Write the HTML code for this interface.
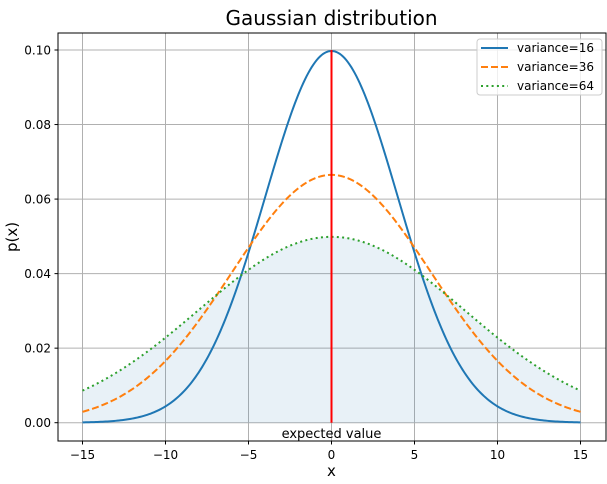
<!DOCTYPE html>
<html><head><style>
body{margin:0;background:#fff;font-family:"DejaVu Sans","Liberation Sans",sans-serif;}
</style></head><body>
<svg id="s" width="607" height="480" xmlns="http://www.w3.org/2000/svg" font-family="DejaVu Sans, Liberation Sans, sans-serif">
<rect width="607" height="480" fill="#fff"/>
<g id="grid" stroke="#b0b0b0" stroke-width="1"></g>
<path id="fill" fill="#1f77b4" fill-opacity="0.1"/>
<path id="c1" fill="none" stroke="#1f77b4" stroke-width="2"/>
<path id="c2" fill="none" stroke="#ff7f0e" stroke-width="2" stroke-dasharray="7,3"/>
<path id="c3" fill="none" stroke="#2ca02c" stroke-width="2" stroke-dasharray="2,3.3"/>
<line x1="331.5" y1="422.7" x2="331.5" y2="50" stroke="#ff0000" stroke-width="2"/>
<rect x="58" y="33" width="548" height="408" fill="none" stroke="#000" stroke-width="1"/>
<g id="ticks" font-size="12" fill="#000"></g>
<text x="331.5" y="438" font-size="13" text-anchor="middle">expected value</text>
<text x="331.5" y="25" font-size="20" text-anchor="middle">Gaussian distribution</text>
<text x="331.5" y="476" font-size="15" text-anchor="middle">x</text>
<text transform="translate(17,237) rotate(-90)" font-size="15" text-anchor="middle">p(x)</text>
<rect x="477" y="39" width="125" height="56" rx="3" fill="#fff" fill-opacity="0.8" stroke="#ccc"/>
<line x1="481" y1="48" x2="508" y2="48" stroke="#1f77b4" stroke-width="2"/>
<line x1="481" y1="67" x2="508" y2="67" stroke="#ff7f0e" stroke-width="2" stroke-dasharray="7,3"/>
<line x1="481" y1="86" x2="508" y2="86" stroke="#2ca02c" stroke-width="2" stroke-dasharray="2,3.3"/>
<text x="517" y="52" font-size="12">variance=16</text>
<text x="517" y="71" font-size="12">variance=36</text>
<text x="517" y="90" font-size="12">variance=64</text>
</svg>
<script>
var X=function(x){return 331.5+x*16.6},Y=function(y){return 422.7-y*3727};
var ns="http://www.w3.org/2000/svg";
function g(x,v){return Math.exp(-x*x/(2*v))/Math.sqrt(2*Math.PI*v)}
function path(v){var d="";for(var i=0;i<=300;i++){var x=-15+i*0.1;d+=(i?"L":"M")+X(x).toFixed(2)+","+Y(g(x,v)).toFixed(2)}return d}
document.getElementById("c1").setAttribute("d",path(16));
document.getElementById("c2").setAttribute("d",path(36));
document.getElementById("c3").setAttribute("d",path(64));
document.getElementById("fill").setAttribute("d",path(64)+"L"+X(15)+","+Y(0)+"L"+X(-15)+","+Y(0)+"Z");
var gr=document.getElementById("grid"),tk=document.getElementById("ticks");
function el(p,t,a,txt){var e=document.createElementNS(ns,t);for(var k in a)e.setAttribute(k,a[k]);if(txt)e.textContent=txt;p.appendChild(e);}
[-15,-10,-5,0,5,10,15].forEach(function(v){var x=X(v);el(gr,"line",{x1:x,x2:x,y1:33,y2:441});el(tk,"line",{x1:x,x2:x,y1:441,y2:444.5,stroke:"#000","stroke-width":1});el(tk,"text",{x:x,y:459,"text-anchor":"middle"},(v<0?"\u2212"+(-v):""+v));});
[0,0.02,0.04,0.06,0.08,0.10].forEach(function(v){var y=Y(v);el(gr,"line",{x1:58,x2:606,y1:y,y2:y});el(tk,"line",{x1:54.5,x2:58,y1:y,y2:y,stroke:"#000","stroke-width":1});el(tk,"text",{x:51,y:y+4.5,"text-anchor":"end"},v.toFixed(2));});
</script>
</body></html>
